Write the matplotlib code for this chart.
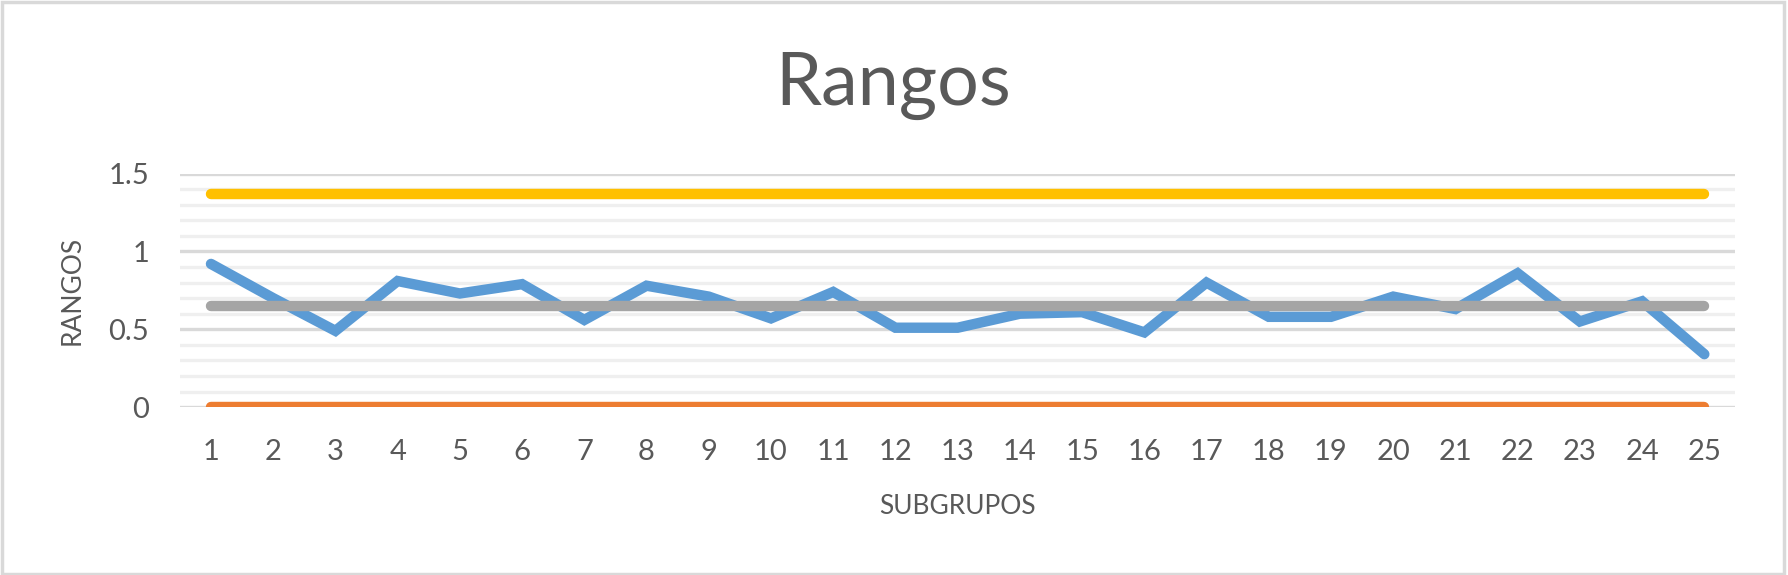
import matplotlib
matplotlib.use("Agg")
import matplotlib.pyplot as plt
from matplotlib.patches import Rectangle
from matplotlib.ticker import MultipleLocator

# ---- data ----
subgrupos = list(range(1, 26))
rangos = [0.92, 0.70, 0.49, 0.81, 0.73, 0.79, 0.56, 0.78, 0.71, 0.57,
          0.74, 0.51, 0.51, 0.60, 0.61, 0.48, 0.80, 0.58, 0.58, 0.71,
          0.63, 0.86, 0.55, 0.68, 0.34]
lcs = [1.37] * 25   # upper control limit
lci = [0.0] * 25    # lower control limit
r_media = [0.65] * 25
yticks = [0, 0.5, 1, 1.5]
ytick_labels = ["0", "0.5", "1", "1.5"]

plt.rcParams['font.family'] = ['Lato', 'DejaVu Sans']
txt = "#595959"

fig = plt.figure(figsize=(17.88, 5.75), dpi=100)
ax = fig.add_axes([0.1006, 0.292, 0.870, 0.406])

lw = 7.5
ax.plot(subgrupos, lci, color="#ED7D31", lw=lw, solid_capstyle="round", zorder=3)
ax.plot(subgrupos, lcs, color="#FFC000", lw=lw, solid_capstyle="round", zorder=3)
ax.plot(subgrupos, rangos, color="#5B9BD5", lw=lw, solid_capstyle="round",
        solid_joinstyle="miter", zorder=4)
ax.plot(subgrupos, r_media, color="#A5A5A5", lw=lw, solid_capstyle="round", zorder=5)

ax.set_xlim(0.5, 25.5)
ax.set_ylim(0, 1.5)
ax.set_xticks(subgrupos)
ax.set_xticklabels([str(s) for s in subgrupos])
ax.set_yticks(yticks)
ax.set_yticklabels(ytick_labels)
ax.yaxis.set_minor_locator(MultipleLocator(0.1))
ax.grid(which="major", axis="y", color="#D9D9D9", lw=2.4, zorder=0)
ax.grid(which="minor", axis="y", color="#EFEFEF", lw=2.4, zorder=0)
ax.set_axisbelow(True)
for s in ax.spines.values():
    s.set_visible(False)
ax.tick_params(axis="both", which="both", length=0, labelsize=21, colors=txt)
ax.tick_params(axis="x", pad=23)
ax.tick_params(axis="y", pad=22)

ax.set_xlabel("SUBGRUPOS", fontsize=19, color=txt, labelpad=21)
ax.set_ylabel("RANGOS", fontsize=19, color=txt, labelpad=17)
fig.text(0.4995, 0.851, "Rangos", ha="center", va="center", fontsize=53,
         color=txt, fontweight="normal")

fig.patches.append(Rectangle((0.001, 0.002), 0.997, 0.994, transform=fig.transFigure,
                             fill=False, edgecolor="#D9D9D9", lw=2.5))

fig.savefig("out.png", dpi=100, facecolor="white")
